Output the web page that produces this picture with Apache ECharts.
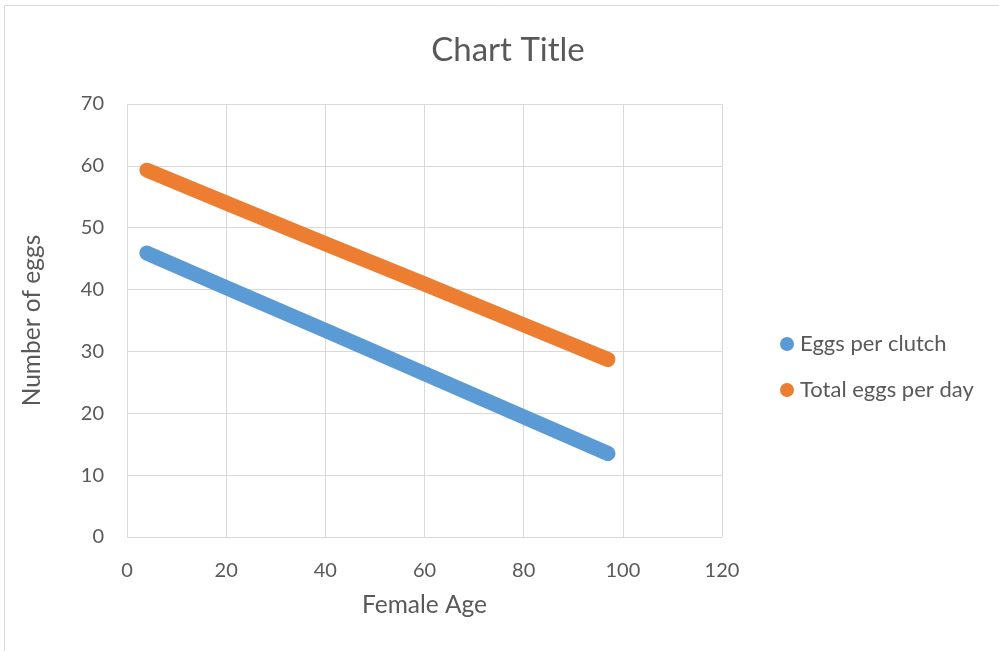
<!DOCTYPE html>
<html>
<head>
<meta charset="utf-8">
<script src="https://cdn.jsdelivr.net/npm/echarts@6/dist/echarts.min.js"></script>
<style>
  html, body { margin: 0; padding: 0; background: #ffffff; }
  #chart { width: 999px; height: 651px; }
</style>
</head>
<body>
<div id="chart"></div>
<script>
// Female age (x) and egg counts
const ages = [4, 20, 40, 60, 80, 97];
const eggsPerClutch = [45.9, 40.3, 33.4, 26.4, 19.4, 13.5];
const totalEggsPerDay = [59.3, 54.0, 47.4, 40.9, 34.3, 28.7];

const seriesNames = ['Eggs per clutch', 'Total eggs per day'];
const seriesColors = ['#5b9bd5', '#ed7d31'];

const xTicks = { min: 0, max: 120, interval: 20 };
const yTicks = { min: 0, max: 70, interval: 10 };

const FONT = 'Lato, "Open Sans", sans-serif';
const TEXT = '#595959';
const GRID = '#d9d9d9';

function pairs(xs, ys) {
  return xs.map((x, i) => [x, ys[i]]);
}

const chart = echarts.init(document.getElementById('chart'), null, { renderer: 'canvas' });

chart.setOption({
  animation: false,
  backgroundColor: '#ffffff',
  textStyle: { fontFamily: FONT },
  graphic: [{
    type: 'rect',
    shape: { x: 4.5, y: 5.5, width: 1200, height: 900 },
    style: { fill: 'none', stroke: GRID, lineWidth: 1 },
    silent: true
  }],
  title: {
    text: 'Chart Title',
    left: 508,
    top: 34,
    padding: 0,
    textAlign: 'center',
    textStyle: { color: TEXT, fontSize: 33, fontWeight: 'normal', fontFamily: FONT }
  },
  legend: {
    orient: 'vertical',
    left: 775,
    top: 328,
    icon: 'circle',
    itemWidth: 14,
    itemHeight: 14,
    itemGap: 24,
    textStyle: { color: TEXT, fontSize: 22, fontFamily: FONT, padding: [0, 0, 0, 1] },
    data: seriesNames
  },
  grid: { left: 127, right: 277, top: 104, bottom: 114, containLabel: false },
  xAxis: {
    type: 'value',
    min: xTicks.min, max: xTicks.max, interval: xTicks.interval,
    name: 'Female Age',
    nameLocation: 'middle',
    nameGap: 56,
    nameTextStyle: { color: TEXT, fontSize: 24.5, fontFamily: FONT },
    axisLine: { show: false },
    axisTick: { show: false },
    axisLabel: { color: TEXT, fontSize: 20, margin: 24, fontFamily: FONT },
    splitLine: { show: true, lineStyle: { color: GRID, width: 1 } }
  },
  yAxis: {
    type: 'value',
    min: yTicks.min, max: yTicks.max, interval: yTicks.interval,
    name: 'Number of eggs',
    nameLocation: 'middle',
    nameGap: 82,
    nameRotate: 90,
    nameTextStyle: { color: TEXT, fontSize: 24.5, fontFamily: FONT },
    axisLine: { show: false },
    axisTick: { show: false },
    axisLabel: { color: TEXT, fontSize: 20, margin: 23, fontFamily: FONT },
    splitLine: { show: true, lineStyle: { color: GRID, width: 1 } }
  },
  series: [
    {
      name: seriesNames[0],
      type: 'line',
      data: pairs(ages, eggsPerClutch),
      color: seriesColors[0],
      showSymbol: false,
      symbol: 'circle',
      lineStyle: { width: 15, cap: 'round', join: 'round', color: seriesColors[0] },
      itemStyle: { color: seriesColors[0] }
    },
    {
      name: seriesNames[1],
      type: 'line',
      data: pairs(ages, totalEggsPerDay),
      color: seriesColors[1],
      showSymbol: false,
      symbol: 'circle',
      lineStyle: { width: 15, cap: 'round', join: 'round', color: seriesColors[1] },
      itemStyle: { color: seriesColors[1] }
    }
  ]
});
</script>
</body>
</html>
